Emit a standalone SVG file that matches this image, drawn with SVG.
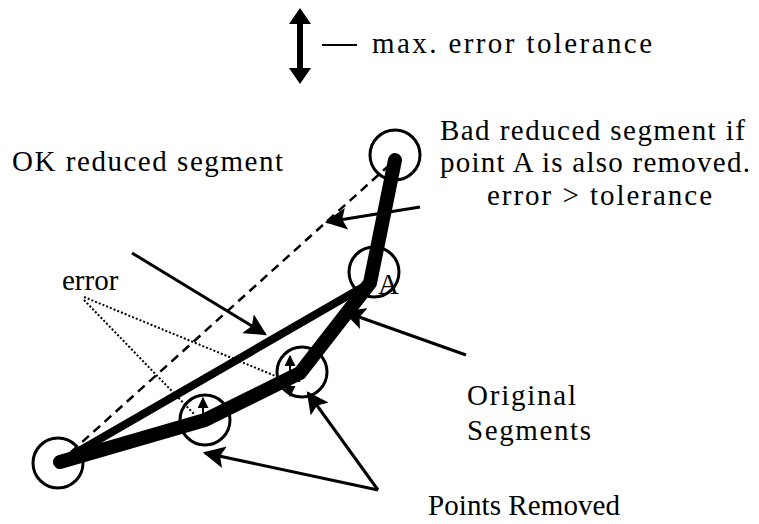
<svg xmlns="http://www.w3.org/2000/svg" width="759" height="524" viewBox="0 0 759 524">
<style>
text{font-family:"Liberation Serif","Times New Roman",serif;font-size:29px;fill:#000}
.pt{fill:none;stroke:#000;stroke-width:3}
.thin{fill:none;stroke:#000;stroke-width:3}
.dot{fill:none;stroke:#000;stroke-width:2;stroke-dasharray:2 2}
</style>
<defs>
<marker id="big" viewBox="0 0 10 10" refX="9" refY="5" markerWidth="22" markerHeight="22" markerUnits="userSpaceOnUse" orient="auto">
<path d="M0,0 L10,5 L0,10 L2,5 Z" fill="#000"/>
</marker>
<marker id="sm" viewBox="0 0 10 10" refX="9" refY="5" markerWidth="11" markerHeight="11" markerUnits="userSpaceOnUse" orient="auto">
<path d="M0,0 L10,5 L0,10 Z" fill="#000"/>
</marker>
</defs>
<g id="legend">
<path d="M300,22 V70" stroke="#000" stroke-width="6"/>
<path d="M289,24 L300,8 L311,24 Z M289,68 L300,84 L311,68 Z" fill="#000"/>
<path d="M322,45 H357" stroke="#000" stroke-width="2"/>
<text x="372" y="53" textLength="280" lengthAdjust="spacing">max. error tolerance</text>
</g>
<g id="connectors">
<path d="M60,462 L395,160" fill="none" stroke="#000" stroke-width="2.5" stroke-dasharray="9 6"/>
<path d="M60,462 L370,283" fill="none" stroke="#000" stroke-width="8" stroke-linecap="round"/>
<path d="M60,462 L205,420 L300,373 L370,283 L395,160" fill="none" stroke="#000" stroke-width="14" stroke-linecap="round" stroke-linejoin="round"/>
<path d="M132,253 L265,334" class="thin" marker-end="url(#big)"/>
<path d="M420,207 L327,222" class="thin" marker-end="url(#big)"/>
<path d="M466,355 L345,312" class="thin" marker-end="url(#big)"/>
<path d="M378,490 L308,393" class="thin" marker-end="url(#big)"/>
<path d="M378,490 L205,453" class="thin" marker-end="url(#big)"/>
<path d="M84,297 L290,382" class="dot"/>
<path d="M84,300 L195,415" class="dot"/>
<path d="M290,395 V356" fill="none" stroke="#000" stroke-width="2" marker-end="url(#sm)"/>
<path d="M290,380 V396" fill="none" stroke="#000" stroke-width="2" marker-end="url(#sm)"/>
<path d="M280,381 H300" stroke="#000" stroke-width="2"/>
<path d="M203,425 V398" fill="none" stroke="#000" stroke-width="2" marker-end="url(#sm)"/>
</g>
<g id="p0"><circle cx="58" cy="463" r="25" class="pt"/></g>
<g id="p1"><circle cx="205" cy="420" r="25" class="pt"/></g>
<g id="p2"><circle cx="302" cy="372" r="25" class="pt"/></g>
<g id="pA"><circle cx="374" cy="272" r="25" class="pt"/><text x="378" y="294">A</text></g>
<g id="p4"><circle cx="395" cy="155" r="25" class="pt"/></g>
<g id="labels">
<text x="12" y="171" textLength="271" lengthAdjust="spacing">OK reduced segment</text>
<text x="440" y="140" textLength="305" lengthAdjust="spacing">Bad reduced segment if</text>
<text x="440" y="172" textLength="310" lengthAdjust="spacing">point A is also removed.</text>
<text x="487" y="205" textLength="225" lengthAdjust="spacing">error &gt; tolerance</text>
<text x="62" y="290">error</text>
<text x="467" y="405" textLength="109" lengthAdjust="spacing">Original</text>
<text x="467" y="440" textLength="124" lengthAdjust="spacing">Segments</text>
<text x="428" y="515" textLength="192" lengthAdjust="spacing">Points Removed</text>
</g>
</svg>
